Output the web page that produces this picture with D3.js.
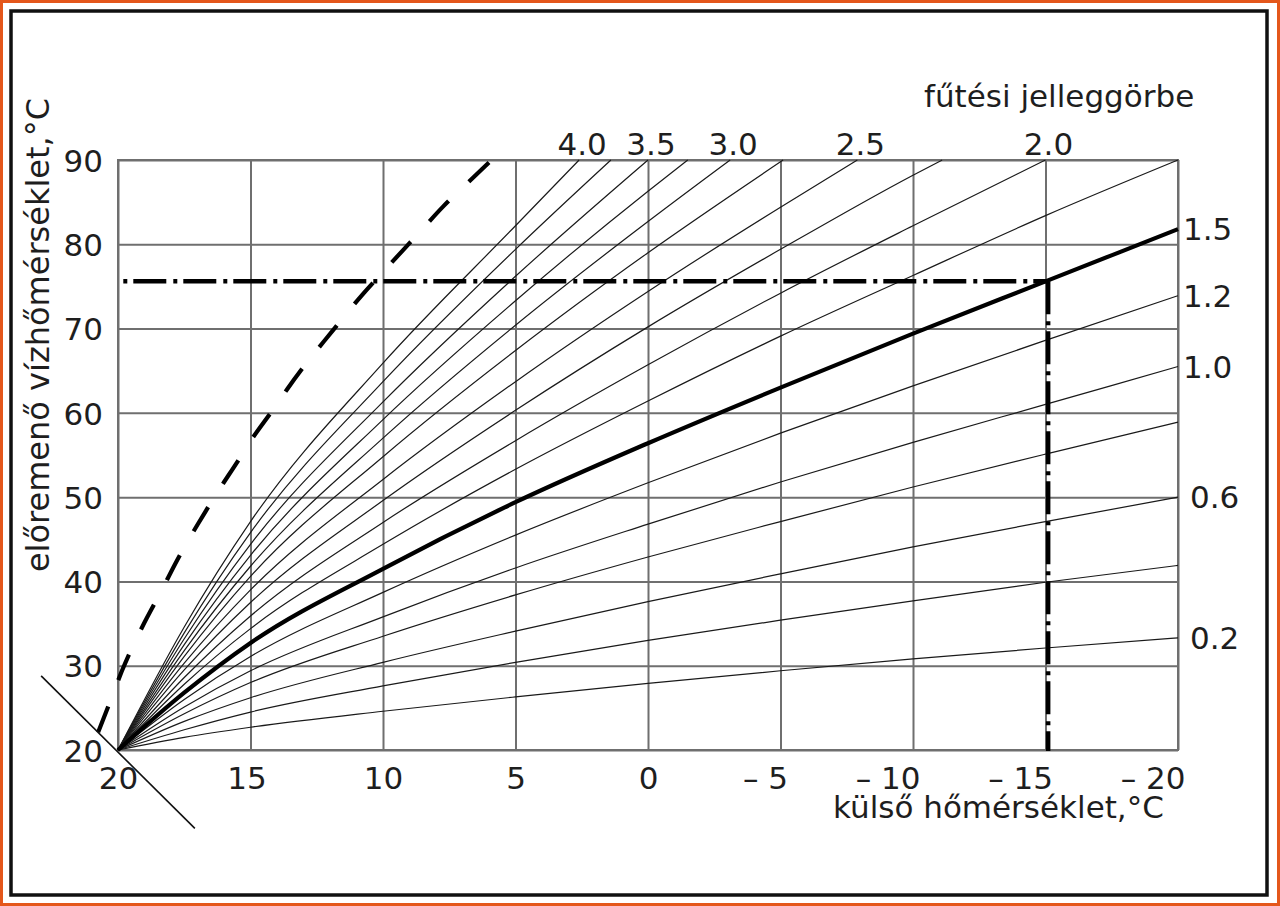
<!DOCTYPE html>
<html>
<head>
<meta charset="utf-8">
<script src="https://cdn.jsdelivr.net/npm/d3@7"></script>
<style>
  body { margin: 0; background: #fff; }
  svg { display: block; }
  text { font-family: "DejaVu Sans", sans-serif; fill: #1e1e1e; }
</style>
</head>
<body>
<svg id="chart" width="1280" height="906"></svg>
<script>
// ---------------- data ----------------
const outdoorTicks = [20, 15, 10, 5, 0, -5, -10, -15, -20];
const flowTicks = [20, 30, 40, 50, 60, 70, 80, 90];

// outdoor temperatures at which the curves were read
const outdoorSamples = [20, 17.5, 15, 10, 5, 0, -5, -10, -15, -20];

// heating curves: flow temperature at outdoorSamples (in order), until the curve leaves the chart
const curveNames = ["4.0","3.75","3.5","3.25","3.0","2.75","2.5","2.25","2.0","1.75","1.5","1.2","1.0","0.8","0.6","0.4","0.2"];
const curveLabelled = [true,false,true,false,true,false,true,false,true,false,true,true,true,false,true,false,true];
const curveFlowTemps = [
  [20, 34.6, 47.1, 65.9, 82.2],
  [20, 33.9, 45.8, 63.7, 79.4],
  [20, 33.2, 44.4, 61.3, 76.2],
  [20, 32.5, 43.1, 59.2, 73.3, 86.3],
  [20, 31.8, 41.8, 57.0, 70.4, 82.7],
  [20, 31.1, 40.6, 54.8, 67.4, 79.0],
  [20, 30.3, 39.0, 52.1, 63.7, 74.4, 84.4],
  [20, 29.5, 37.5, 49.6, 60.3, 70.2, 79.4, 88.2],
  [20, 28.6, 35.9, 47.0, 56.7, 65.7, 74.2, 82.2],
  [20, 27.8, 34.4, 44.4, 53.3, 61.4, 69.1, 76.3, 83.4, 90.0],
  [20, 26.8, 32.7, 41.5, 49.4, 56.4, 63.0, 69.4, 75.6, 81.8],
  [20, 26.0, 31.1, 38.7, 45.5, 51.7, 57.6, 63.2, 68.6, 73.9],
  [20, 25.1, 29.4, 35.8, 41.6, 46.8, 51.8, 56.5, 61.0, 65.5],
  [20, 24.3, 28.0, 33.5, 38.4, 42.9, 47.1, 51.2, 55.1, 58.9],
  [20, 23.4, 26.2, 30.4, 34.1, 37.6, 40.9, 44.1, 47.1, 50.0],
  [20, 22.4, 24.5, 27.6, 30.4, 33.0, 35.4, 37.7, 39.9, 41.9],
  [20, 21.5, 22.7, 24.6, 26.3, 27.9, 29.4, 30.8, 32.1, 33.3]
];
// outdoor temperature where a curve reaches 90 °C (top edge), null = ends on the right edge
const curveTopOutdoor = [2.6, 1.4, 0.0, -1.5, -3.1, -5.1, -7.9, -11.1, -15.0, null, null, null, null, null, null, null, null];
const selectedCurve = "1.5";

// dashed limit curve
const limitOutdoor = [20.75, 20.3, 19.85, 19.45, 18.9, 18.4, 17.85, 17.35, 16.7, 16.15, 15.4, 14.95, 14.2, 13.65, 12.9, 12.25, 11.5, 10.8, 10.0, 9.25, 8.45, 7.75, 6.9, 6.0];
const limitFlow    = [22.1, 25.7, 29.5, 32.3, 35.8, 38.6, 42.1, 44.9, 48.3, 51.1, 54.6, 57.0, 60.1, 62.7, 65.9, 68.4, 71.3, 74.0, 76.7, 79.3, 82.0, 84.5, 87.0, 89.7];

// design point (dash-dot guide lines)
const designOutdoor = -15.1;
const designFlow = 75.6;
const guideStartOutdoor = 19.8;

// room-temperature shift axis (diagonal)
const shiftAxisOutdoor = [22.9, 17.1];
const shiftAxisFlow = [28.8, 10.7];

const xTitle = "külső hőmérséklet,°C";
const yTitle = "előremenő vízhőmérséklet,°C";
const curveTitle = "fűtési jelleggörbe";

// ---------------- drawing ----------------
const svg = d3.select("#chart");
const W = 1280, H = 906;
const pLeft = 118, pRight = 1178, pTop = 160, pBottom = 750;

const x = d3.scaleLinear().domain([20, -20]).range([pLeft, pRight]);
const y = d3.scaleLinear().domain([20, 90]).range([pBottom, pTop]);

// frames
svg.append("rect").attr("x", 1.5).attr("y", 1.5).attr("width", W - 3).attr("height", H - 3)
  .attr("fill", "#fff").attr("stroke", "#e4571b").attr("stroke-width", 3);
svg.append("rect").attr("x", 11).attr("y", 11).attr("width", 1256).attr("height", 884)
  .attr("fill", "none").attr("stroke", "#111").attr("stroke-width", 3.5);

const gridColor = "#6f6f6f";

// x axis with grid
const xAxis = d3.axisBottom(x).tickValues(outdoorTicks)
  .tickSize(-(pBottom - pTop)).tickSizeOuter(0)
  .tickFormat(d => d < 0 ? "\u2013 " + (-d) : String(d));
const gx = svg.append("g").attr("transform", `translate(0,${pBottom})`).call(xAxis);
gx.select(".domain").remove();
gx.selectAll(".tick line").attr("stroke", gridColor).attr("stroke-width", 2);
gx.selectAll(".tick text")
  .attr("y", 39).attr("dy", 0)
  .attr("font-size", 31).attr("font-family", "DejaVu Sans").attr("fill", "#1e1e1e")
  .attr("text-anchor", d => d < 0 ? "end" : "middle")
  .attr("x", d => d < 0 ? 7 : (d === 15 ? -4 : 0));

// y axis with grid
const yAxis = d3.axisLeft(y).tickValues(flowTicks)
  .tickSize(-(pRight - pLeft)).tickSizeOuter(0);
const gy = svg.append("g").attr("transform", `translate(${pLeft},0)`).call(yAxis);
gy.select(".domain").remove();
gy.selectAll(".tick line").attr("stroke", gridColor).attr("stroke-width", 2);
gy.selectAll(".tick text")
  .attr("x", -15).attr("dy", "0.36em")
  .attr("font-size", 31).attr("font-family", "DejaVu Sans").attr("fill", "#1e1e1e")
  .attr("text-anchor", "end");

// plot border
svg.append("rect").attr("x", pLeft).attr("y", pTop).attr("width", pRight - pLeft).attr("height", pBottom - pTop)
  .attr("fill", "none").attr("stroke", gridColor).attr("stroke-width", 2);

// curves
const line = d3.line().x(d => x(d[0])).y(d => y(d[1])).curve(d3.curveMonotoneX);
const curves = curveNames.map((name, i) => {
  const vals = curveFlowTemps[i];
  const pts = vals.map((v, j) => [outdoorSamples[j], v]);
  if (curveTopOutdoor[i] !== null) pts.push([curveTopOutdoor[i], 90]);
  return { name, labelled: curveLabelled[i], pts, topT: curveTopOutdoor[i] };
});

svg.append("g").selectAll("path").data(curves.filter(c => c.name !== selectedCurve)).join("path")
  .attr("d", c => line(c.pts)).attr("fill", "none").attr("stroke", "#1a1a1a").attr("stroke-width", 1.2);

svg.append("g").selectAll("path").data(curves.filter(c => c.name === selectedCurve)).join("path")
  .attr("d", c => line(c.pts)).attr("fill", "none").attr("stroke", "#000").attr("stroke-width", 4.2);

// dashed limit curve (pattern aligned so that both ends are dashes)
const limitPts = limitOutdoor.map((t, i) => [t, limitFlow[i]]);
const limitPath = svg.append("path")
  .attr("d", d3.line().x(d => x(d[0])).y(d => y(d[1])).curve(d3.curveBasis)(limitPts))
  .attr("fill", "none").attr("stroke", "#000").attr("stroke-width", 4.2);
const L = limitPath.node().getTotalLength();
const n = Math.max(2, Math.round((L + 30) / 58));
const gap = (L - n * 28) / (n - 1);
limitPath.attr("stroke-dasharray", `28,${gap.toFixed(2)}`);

// dash-dot guide lines
svg.append("line")
  .attr("x1", x(guideStartOutdoor)).attr("y1", y(designFlow))
  .attr("x2", x(designOutdoor)).attr("y2", y(designFlow))
  .attr("stroke", "#000").attr("stroke-width", 4.5).attr("stroke-dasharray", "4,6,33,7");
svg.append("line")
  .attr("x1", x(designOutdoor)).attr("y1", y(designFlow))
  .attr("x2", x(designOutdoor)).attr("y2", y(20) + 1)
  .attr("stroke", "#000").attr("stroke-width", 4.5).attr("stroke-dasharray", "33,7,4,6");

// diagonal shift axis
svg.append("line")
  .attr("x1", x(shiftAxisOutdoor[0])).attr("y1", y(shiftAxisFlow[0]))
  .attr("x2", x(shiftAxisOutdoor[1])).attr("y2", y(shiftAxisFlow[1]))
  .attr("stroke", "#111").attr("stroke-width", 1.6);

// curve labels
const topLabels = curves.filter(c => c.labelled && c.topT !== null);
svg.append("g").selectAll("text").data(topLabels).join("text")
  .attr("x", c => x(c.topT) + 3).attr("y", 155)
  .attr("text-anchor", "middle").attr("font-size", 31).text(c => c.name);

const rightLabels = curves.filter(c => c.labelled && c.topT === null);
svg.append("g").selectAll("text").data(rightLabels).join("text")
  .attr("x", c => pRight + (c.name.startsWith("0") ? 12 : 5))
  .attr("y", c => y(c.pts[c.pts.length - 1][1])).attr("dy", "0.36em")
  .attr("text-anchor", "start").attr("font-size", 31).text(c => c.name);

// titles
svg.append("text").attr("x", 924).attr("y", 107).attr("font-size", 31).text(curveTitle);
svg.append("text").attr("x", 833).attr("y", 818).attr("font-size", 31).text(xTitle);
svg.append("text").attr("transform", "translate(49,335) rotate(-90)")
  .attr("text-anchor", "middle").attr("font-size", 32).text(yTitle);
</script>
</body>
</html>
